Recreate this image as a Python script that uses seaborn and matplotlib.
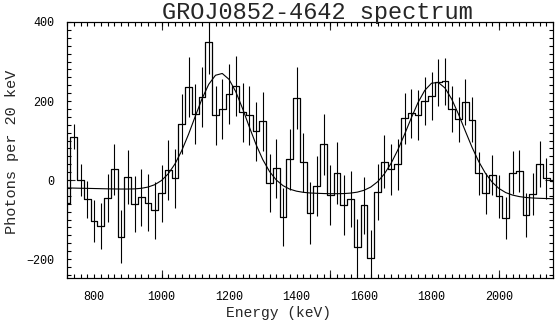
import numpy as np
import pandas as pd
import matplotlib
matplotlib.use("Agg")
import matplotlib.pyplot as plt
import seaborn as sns
from matplotlib.ticker import MultipleLocator

# bin centres (20 keV bins)
energy = np.arange(720, 2161, 20)

# photons per 20 keV
photons = [-57, 110, 0, -49, -104, -116, -46, 27, -143, 7,
           -61, -44, -57, -77, -34, 25, 4, 143, 235, 166,
           209, 349, 164, 179, 217, 239, 171, 164, 123, 149,
           -8, 30, -93, 52, 207, 45, -84, -15, 90, -38,
           17, -63, -49, -170, -64, -198, -30, 46, 27, 40,
           156, 169, 164, 201, 213, 247, 250, 180, 154, 197,
           152, 17, -34, 13, -41, -97, 19, 23, -89, -35,
           40, 5, -2]

# 1-sigma errors
errors = [45, 31, 41, 46, 54, 58, 61, 65, 66, 68,
          70, 73, 73, 72, 73, 76, 75, 76, 76, 76,
          76, 80, 75, 76, 76, 76, 75, 75, 74, 75,
          73, 75, 74, 78, 78, 75, 78, 77, 78, 77,
          78, 76, 71, 72, 72, 72, 70, 67, 65, 64,
          65, 62, 63, 61, 60, 59, 59, 59, 57, 58,
          57, 55, 53, 51, 54, 53, 55, 54, 55, 54,
          58, 52, 52]

# fitted model curve, read at the bin centres
fit = [-20.0, -20.4, -20.8, -21.1, -21.5, -21.9, -22.3, -22.6, -22.8, -22.8,
       -22.4, -21.0, -17.8, -11.8, -1.2, 15.8, 40.8, 74.5, 115.6, 161.1,
       205.6, 242.4, 265.2, 269.7, 254.9, 223.7, 181.4, 134.9, 90.2, 51.8,
       21.7, 0.1, -14.2, -23.1, -28.2, -31.1, -32.8, -33.6, -34.2, -34.6,
       -34.6, -34.3, -33.1, -30.7, -26.0, -17.8, -4.6, 15.1, 41.8, 75.8,
       115.3, 156.9, 196.0, 226.9, 245.0, 247.1, 232.9, 204.6, 166.6, 124.4,
       83.1, 46.6, 16.7, -5.7, -21.5, -31.8, -38.1, -41.9, -44.2, -45.5,
       -46.3, -46.8, -47.3]

df = pd.DataFrame({"energy": energy, "photons": photons, "error": errors, "fit": fit})

sns.set_style("ticks")
plt.rcParams["font.family"] = ["Liberation Mono", "DejaVu Sans Mono"]

fig = plt.figure(figsize=(5.6, 3.24), dpi=100)
ax = fig.add_axes([67 / 560, 1 - 278 / 324, (553 - 67) / 560, (278 - 22) / 324])

ax.errorbar(df["energy"], df["photons"], yerr=df["error"], fmt="none",
            ecolor="black", elinewidth=0.8, capsize=0)
sns.lineplot(data=df, x="energy", y="photons", drawstyle="steps-mid",
             color="black", lw=0.9, ax=ax)
sns.lineplot(data=df, x="energy", y="fit", color="black", lw=0.8, ax=ax)

ax.set_xlim(720, 2160)
ax.set_ylim(-248, 400)
ax.set_xlabel("")
ax.set_ylabel("")

# labelled ticks every 200, small ticks every 20
ax.xaxis.set_major_locator(MultipleLocator(200))
ax.xaxis.set_minor_locator(MultipleLocator(20))
ax.yaxis.set_major_locator(MultipleLocator(200))
ax.yaxis.set_minor_locator(MultipleLocator(20))
ax.xaxis.remove_overlapping_locs = False
ax.yaxis.remove_overlapping_locs = False
ax.tick_params(which="major", length=0, labelsize=8.5, pad=9, colors="black")
ax.tick_params(which="minor", direction="in", length=3, width=0.8,
               top=True, bottom=True, left=True, right=True, colors="black")

# longer ticks at multiples of 500
for loc in ["bottom", "top"]:
    sec = ax.secondary_xaxis(loc)
    sec.set_xticks([1000, 1500, 2000])
    sec.tick_params(direction="in", length=6, width=0.8,
                    labelbottom=False, labeltop=False)
for loc in ["left", "right"]:
    sec = ax.secondary_yaxis(loc)
    sec.set_yticks([0])
    sec.tick_params(direction="in", length=6, width=0.8,
                    labelleft=False, labelright=False)

for s in ax.spines.values():
    s.set_color("black")
    s.set_linewidth(0.8)

fig.text(317 / 560, 1 - 12 / 324, "GROJ0852-4642 spectrum",
         ha="center", va="center", fontsize=17)
fig.text(278 / 560, 1 - 313 / 324, "Energy (keV)",
         ha="center", va="center", fontsize=10.5)
fig.text(12.5 / 560, 1 - 152 / 324, "Photons per 20 keV",
         ha="center", va="center", rotation=90, fontsize=11)

fig.savefig("out.png", dpi=100)
